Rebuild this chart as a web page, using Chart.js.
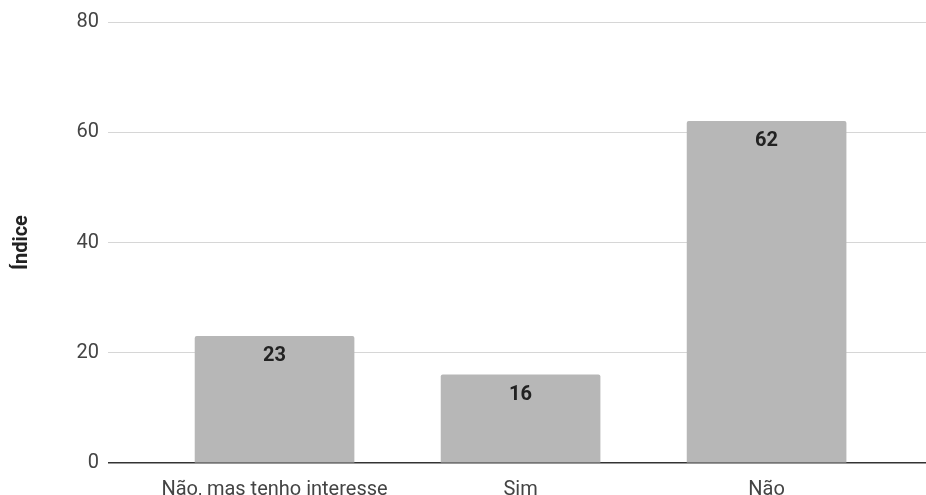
<!DOCTYPE html>
<html>
<head>
<meta charset="utf-8">
<script src="https://cdn.jsdelivr.net/npm/chart.js@4"></script>
<style>
  html, body { margin: 0; padding: 0; background: #fff; }
  #wrap { width: 926px; height: 495px; }
</style>
</head>
<body>
<div id="wrap"><canvas id="canvas"></canvas></div>
<script>
const categorias = ['Não, mas tenho interesse', 'Sim', 'Não'];
const valores = [23, 16, 62];
const ticksY = [0, 20, 40, 60, 80];

// rótulos de valor dentro das barras
const rotulos = {
    id: 'rotulos',
    afterDatasetsDraw(chart) {
        const ctx = chart.ctx;
        const meta = chart.getDatasetMeta(0);
        ctx.save();
        ctx.font = 'bold 20px Roboto';
        ctx.fillStyle = '#222';
        ctx.textAlign = 'center';
        ctx.textBaseline = 'middle';
        meta.data.forEach((barra, i) => {
            ctx.fillText(String(valores[i]), barra.x, barra.y + 20);
        });
        ctx.restore();
    }
};

const canvasCTX = document.getElementById('canvas').getContext('2d');

const grafico = new Chart(canvasCTX, {
    type: 'bar',
    data: {
        datasets: [{
            label: 'Índice',
            data: valores.map((v, i) => ({ x: i, y: v })),
            backgroundColor: '#b7b7b7',
            barThickness: 159,
            borderRadius: 2
        }]
    },
    options: {
        responsive: true,
        maintainAspectRatio: false,
        animation: false,
        plugins: {
            legend: { display: false },
            tooltip: { enabled: false }
        },
        layout: {
            padding: { top: 22, right: 0, bottom: 0, left: 0 }
        },
        scales: {
            x: {
                type: 'linear',
                offset: false,
                min: -0.677,
                max: 2.648,
                afterBuildTicks: (scale) => {
                    scale.ticks = categorias.map((c, i) => ({ value: i }));
                },
                afterFit: (scale) => { scale.height = 32; },
                grid: { display: false },
                border: { display: false },
                ticks: {
                    callback: (v) => categorias[v],
                    padding: 7,
                    maxRotation: 0,
                    autoSkip: false,
                    font: { family: 'Roboto', size: 20 },
                    color: '#444'
                }
            },
            y: {
                min: 0,
                max: 80,
                afterBuildTicks: (scale) => {
                    scale.ticks = ticksY.map(v => ({ value: v }));
                },
                afterFit: (scale) => { scale.width = 108; },
                border: { display: false },
                grid: {
                    drawTicks: false,
                    color: (c) => c.tick && c.tick.value === 0 ? '#333' : '#d6d6d6',
                    lineWidth: (c) => c.tick && c.tick.value === 0 ? 1.5 : 1
                },
                ticks: {
                    padding: 9,
                    font: { family: 'Roboto', size: 20 },
                    color: '#444'
                },
                title: {
                    display: true,
                    text: 'Índice',
                    color: '#222',
                    font: { family: 'Roboto', size: 20, weight: 'bold' },
                    padding: { top: 10, bottom: 0 }
                }
            }
        }
    },
    plugins: [rotulos]
});
</script>
</body>
</html>
